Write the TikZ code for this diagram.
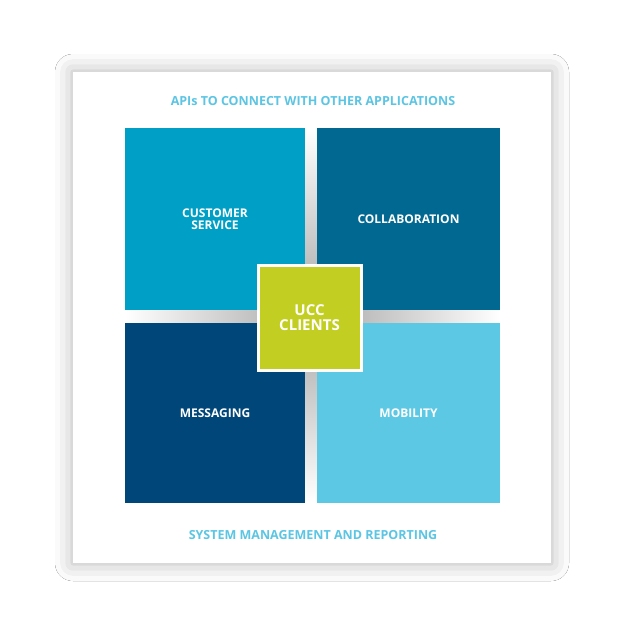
\documentclass[tikz,border=0pt]{standalone}
\usepackage{fontspec}
\setmainfont{Open Sans}
\usetikzlibrary{shadows.blur}
\definecolor{cTL}{HTML}{00A0C6}
\definecolor{cTR}{HTML}{006891}
\definecolor{cBL}{HTML}{004679}
\definecolor{cBR}{HTML}{5CC8E4}
\definecolor{cLime}{HTML}{C2CF22}
\definecolor{cTxt}{HTML}{5BC5E3}
\begin{document}
\begin{tikzpicture}[x=1pt,y=-1pt,
  tile/.style={inner sep=0pt,outer sep=0pt,align=center,text=white,font=\bfseries\fontsize{12}{14}\selectfont},
  captext/.style={text=cTxt,font=\bfseries\fontsize{12.5}{14}\selectfont}]
\useasboundingbox[fill=white] (0,0) rectangle (624,636);
\fill[white,blur shadow={shadow xshift=0pt,shadow yshift=0pt,shadow blur radius=18pt,shadow opacity=30}] (73,72) rectangle (551,563);
\shade[inner color=black!35,outer color=white] (125,128) rectangle (500,503);
\node[tile,fill=cTL,minimum width=180,minimum height=182,anchor=north west] (cs) at (125,128) {CUSTOMER\\[-2pt]SERVICE};
\node[tile,fill=cTR,minimum width=183,minimum height=182,anchor=north west] (co) at (317,128) {COLLABORATION};
\node[tile,fill=cBL,minimum width=180,minimum height=180,anchor=north west] (me) at (125,323) {MESSAGING};
\node[tile,fill=cBR,minimum width=183,minimum height=180,anchor=north west] (mo) at (317,323) {MOBILITY};
\node[tile,fill=cLime,draw=white,line width=3pt,minimum width=103,minimum height=105,font=\bfseries\fontsize{15}{17}\selectfont] (ucc) at (309.5,318) {UCC\\[-2pt]CLIENTS};
\node[captext] (top) at (313,101) {APIs TO CONNECT WITH OTHER APPLICATIONS};
\node[captext] (bot) at (313,535) {SYSTEM MANAGEMENT AND REPORTING};
\end{tikzpicture}
\end{document}
